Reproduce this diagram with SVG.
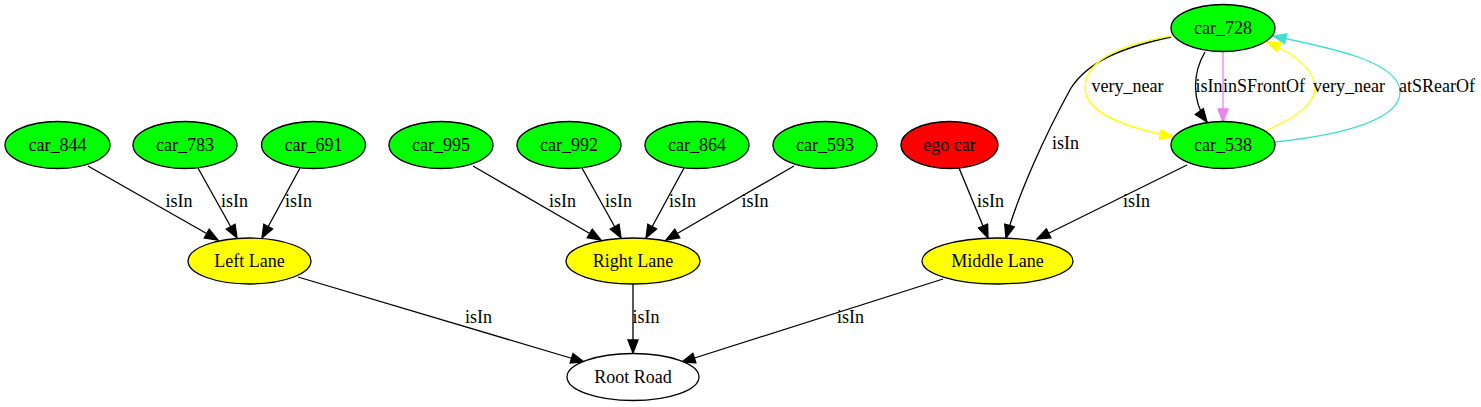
<svg xmlns="http://www.w3.org/2000/svg" width="1481" height="407" viewBox="0 0 1481 407">
<style>
  .n ellipse { stroke: #000; stroke-width: 1.3; }
  .car ellipse { fill: #00ff00; }
  .lane ellipse { fill: #ffff00; }
  .ego ellipse { fill: #ff0000; }
  .root ellipse { fill: #ffffff; }
  text { font-family: "Liberation Serif", "Times New Roman", serif; font-size: 18px; fill: #000; text-anchor: middle; }
  .e path { fill: none; stroke-width: 1.3; }
  .k { stroke: #000; }
  .y { stroke: #ffff00; }
  .v { stroke: #ee82ee; }
  .t { stroke: #40e0d0; }
</style>
<defs>
  <marker id="ak" viewBox="-1 -1 15 12" refX="13" refY="5" markerWidth="15" markerHeight="12" markerUnits="userSpaceOnUse" orient="auto"><path d="M0,0 L13,5 L0,10 z" fill="#000" stroke="#000" stroke-width="1.3"/></marker>
  <marker id="ay" viewBox="-1 -1 15 12" refX="13" refY="5" markerWidth="15" markerHeight="12" markerUnits="userSpaceOnUse" orient="auto"><path d="M0,0 L13,5 L0,10 z" fill="#ffff00" stroke="#ffff00" stroke-width="1.3"/></marker>
  <marker id="av" viewBox="-1 -1 15 12" refX="13" refY="5" markerWidth="15" markerHeight="12" markerUnits="userSpaceOnUse" orient="auto"><path d="M0,0 L13,5 L0,10 z" fill="#ee82ee" stroke="#ee82ee" stroke-width="1.3"/></marker>
  <marker id="at" viewBox="-1 -1 15 12" refX="13" refY="5" markerWidth="15" markerHeight="12" markerUnits="userSpaceOnUse" orient="auto"><path d="M0,0 L13,5 L0,10 z" fill="#40e0d0" stroke="#40e0d0" stroke-width="1.3"/></marker>
</defs>
<rect width="1481" height="407" fill="#fff"/>
<g id="connectors" class="e">
  <path class="k" d="M88,166 L218,240" marker-end="url(#ak)"/>
  <path class="k" d="M198,168 L237,238" marker-end="url(#ak)"/>
  <path class="k" d="M300,168 L262,238" marker-end="url(#ak)"/>
  <path class="k" d="M473,166 L601,240" marker-end="url(#ak)"/>
  <path class="k" d="M582,168 L621,238" marker-end="url(#ak)"/>
  <path class="k" d="M684,168 L646,238" marker-end="url(#ak)"/>
  <path class="k" d="M794,166 L666,240" marker-end="url(#ak)"/>
  <path class="k" d="M959,168 L988,238" marker-end="url(#ak)"/>
  <path class="k" d="M1187,165 L1037,239" marker-end="url(#ak)"/>
  <path class="k" d="M1171,37 C1120,48 1088,62 1071,88 C1045,135 1018,195 1006,238" marker-end="url(#ak)"/>
  <path class="k" d="M1205,52 C1193,72 1191,100 1207,122" marker-end="url(#ak)"/>
  <path class="v" d="M1223,52 L1223,122" marker-end="url(#av)"/>
  <path class="y" d="M1171,36 C1112,46 1085,64 1085,88 C1085,114 1128,128 1173,137" marker-end="url(#ay)"/>
  <path class="y" d="M1265,131 C1300,116 1316,102 1315,86 C1313,68 1292,53 1267,42" marker-end="url(#ay)"/>
  <path class="t" d="M1275,142 C1342,135 1400,120 1400,92 C1400,62 1332,48 1273,36" marker-end="url(#at)"/>
  <path class="k" d="M298,277 L584,362" marker-end="url(#ak)"/>
  <path class="k" d="M633,284 L633,353" marker-end="url(#ak)"/>
  <path class="k" d="M943,279 L682,362" marker-end="url(#ak)"/>
  <text x="179" y="207">isIn</text>
  <text x="234.5" y="207">isIn</text>
  <text x="298.5" y="207">isIn</text>
  <text x="562.5" y="207">isIn</text>
  <text x="618.5" y="207">isIn</text>
  <text x="682.5" y="207">isIn</text>
  <text x="755" y="207">isIn</text>
  <text x="990.5" y="207">isIn</text>
  <text x="1136.5" y="207">isIn</text>
  <text x="1065.5" y="149">isIn</text>
  <text x="1209" y="92">isIn</text>
  <text x="1264" y="92">inSFrontOf</text>
  <text x="1127.5" y="92">very_near</text>
  <text x="1349" y="92">very_near</text>
  <text x="1437" y="92">atSRearOf</text>
  <text x="478.5" y="323">isIn</text>
  <text x="646" y="323">isIn</text>
  <text x="850.5" y="323">isIn</text>
</g>
<g id="car_844" class="n car"><ellipse cx="57.5" cy="145" rx="52.5" ry="23.5"/><text x="57.5" y="151">car_844</text></g>
<g id="car_783" class="n car"><ellipse cx="185" cy="145" rx="52" ry="23.5"/><text x="185" y="151">car_783</text></g>
<g id="car_691" class="n car"><ellipse cx="313.5" cy="145" rx="52" ry="23.5"/><text x="313.5" y="151">car_691</text></g>
<g id="car_995" class="n car"><ellipse cx="441" cy="145" rx="52" ry="23.5"/><text x="441" y="151">car_995</text></g>
<g id="car_992" class="n car"><ellipse cx="569" cy="145" rx="52" ry="23.5"/><text x="569" y="151">car_992</text></g>
<g id="car_864" class="n car"><ellipse cx="697" cy="145" rx="52" ry="23.5"/><text x="697" y="151">car_864</text></g>
<g id="car_593" class="n car"><ellipse cx="825" cy="145" rx="52" ry="23.5"/><text x="825" y="151">car_593</text></g>
<g id="ego_car" class="n ego"><ellipse cx="949.5" cy="145" rx="48.5" ry="23.5"/><text x="949.5" y="151">ego car</text></g>
<g id="car_728" class="n car"><ellipse cx="1223" cy="28" rx="52" ry="23.5"/><text x="1223" y="34">car_728</text></g>
<g id="car_538" class="n car"><ellipse cx="1223" cy="145" rx="52" ry="23.5"/><text x="1223" y="151">car_538</text></g>
<g id="left_lane" class="n lane"><ellipse cx="249.5" cy="261" rx="61.5" ry="23"/><text x="249.5" y="267">Left Lane</text></g>
<g id="right_lane" class="n lane"><ellipse cx="633" cy="261" rx="67" ry="23"/><text x="633" y="267">Right Lane</text></g>
<g id="middle_lane" class="n lane"><ellipse cx="997.5" cy="261" rx="75.5" ry="23"/><text x="997.5" y="267">Middle Lane</text></g>
<g id="root_road" class="n root"><ellipse cx="633" cy="377" rx="66" ry="23.5"/><text x="633" y="383">Root Road</text></g>
</svg>
